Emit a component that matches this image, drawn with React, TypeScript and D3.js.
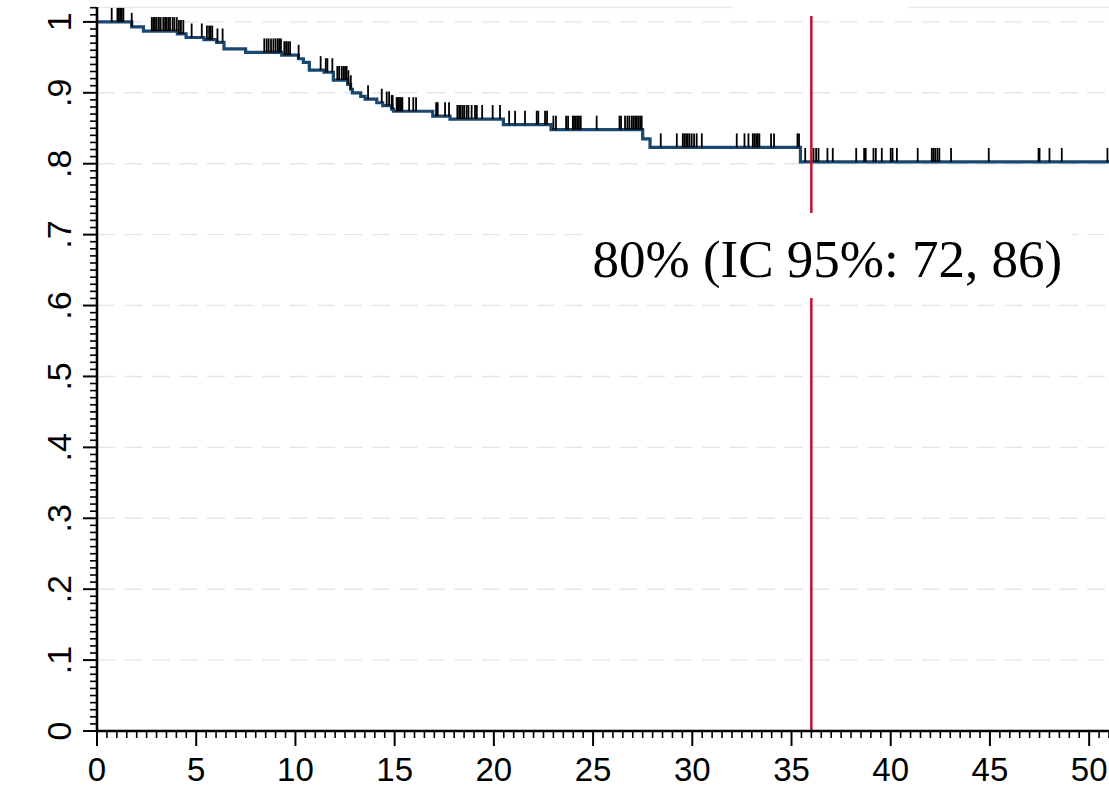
import * as d3 from "d3";
import { useEffect } from "react";

// Kaplan-Meier steps (time in months, survival after the drop)
const eventTimes = [
  1.75, 2.34, 4.05, 4.49, 5.39, 6.03, 6.4, 7.49, 9.31, 10.15, 10.4, 10.7, 11.44,
  11.91, 12.63, 12.78, 12.87, 13.29, 13.51, 14.1, 14.4, 14.85, 14.94, 16.92,
  17.79, 20.48, 22.88, 27.5, 27.87, 35.45,
];
const survival = [
  0.993, 0.987, 0.983, 0.978, 0.975, 0.971, 0.962, 0.957, 0.953, 0.948, 0.943,
  0.932, 0.929, 0.918, 0.912, 0.905, 0.9, 0.895, 0.891, 0.886, 0.882, 0.877,
  0.874, 0.867, 0.863, 0.855, 0.848, 0.835, 0.823, 0.8025,
];
const censorTimes = [
  0.74, 1.03, 1.1, 1.17, 1.25, 1.33, 1.75, 2.76, 2.84, 2.92, 3.01, 3.12, 3.21,
  3.34, 3.43, 3.51, 3.6, 3.68, 3.81, 3.9, 4.02, 4.13, 4.23, 4.35, 4.77, 5.28,
  5.54, 5.65, 5.73, 5.81, 6.07, 6.33, 8.43, 8.55, 8.65, 8.77, 8.89, 9.0, 9.11,
  9.19, 9.27, 9.44, 9.53, 9.63, 9.73, 10.16, 11.27, 11.53, 11.61, 11.86, 12.11,
  12.2, 12.33, 12.42, 12.5, 12.58, 12.67, 12.79, 13.66, 14.35, 14.6, 14.72,
  14.85, 14.9, 15.1, 15.15, 15.2, 15.27, 15.32, 15.39, 15.73, 15.94, 16.08,
  17.09, 17.17, 17.54, 17.74, 18.16, 18.25, 18.33, 18.43, 18.51, 18.63, 18.72,
  18.88, 19.05, 19.14, 19.41, 19.94, 20.31, 20.77, 21.07, 21.57, 22.16, 22.24,
  22.58, 22.68, 23.0, 23.13, 23.64, 23.74, 23.98, 24.04, 24.13, 24.21, 24.29,
  24.38, 25.18, 26.33, 26.41, 26.61, 26.73, 26.83, 26.95, 27.03, 27.12, 27.2,
  27.28, 27.37, 27.45, 28.41, 29.22, 29.52, 29.6, 29.69, 29.77, 29.86, 29.97,
  30.09, 30.22, 30.48, 32.24, 32.63, 32.83, 33.05, 33.13, 33.22, 33.3, 33.38,
  33.97, 34.12, 35.3, 35.38, 35.69, 36.11, 36.24, 36.36, 36.81, 37.08, 38.26,
  38.66, 38.74, 39.13, 39.25, 39.55, 40.0, 40.09, 40.31, 41.36, 42.07, 42.15,
  42.24, 42.35, 42.45, 43.04, 44.94, 47.45, 47.5, 48.0, 48.62, 50.92,
];
const xTicks = [0, 5, 10, 15, 20, 25, 30, 35, 40, 45, 50];
const yTicks = [0, 0.1, 0.2, 0.3, 0.4, 0.5, 0.6, 0.7, 0.8, 0.9, 1];
const yLabels = ["0", ".1", ".2", ".3", ".4", ".5", ".6", ".7", ".8", ".9", "1"];
const markTime = 36;
const annotation = "80% (IC 95%: 72, 86)";
// faint top border, broken between these times
const topBreak = [32.06, 40.88];

const W = 1109;
const H = 788;

export default function App() {
  useEffect(() => {
    document.body.style.margin = "0";
  }, []);

  const x = d3.scaleLinear().domain([0, 51]).range([97, 1109]);
  const y = d3.scaleLinear().domain([0, 1.021]).range([731, 7]);

  const survAt = (t: number) => {
    let s = 1;
    eventTimes.forEach((e, i) => {
      if (e <= t) s = survival[i];
    });
    return s;
  };

  const pts: [number, number][] = [[0, 1]];
  eventTimes.forEach((t, i) => pts.push([t, survival[i]]));
  pts.push([51, survival[survival.length - 1]]);

  const line = d3
    .line<[number, number]>()
    .x((d) => x(d[0]))
    .y((d) => y(d[1]))
    .curve(d3.curveStepAfter);

  const xMinor = d3.range(0, 51.01, 0.5).filter((t) => t % 5 !== 0);
  const yMinor = d3.range(0, 103).map((i) => i / 100).filter((v) => Math.round(v * 100) % 10 !== 0);

  const gridDash = "18,9.5";
  const axisFont = "'Liberation Sans', Arial, sans-serif";
  const tx = x(markTime) + 16;
  const ty = 277;

  return (
    <svg width={W} height={H} style={{ display: "block", background: "#fff" }}>
      {/* grid */}
      <g stroke="#dfe7ee" strokeWidth={1.4} strokeDasharray={gridDash}>
        {yTicks.slice(1).map((v) => (
          <line key={v} x1={x(0)} x2={x(51)} y1={y(v)} y2={y(v)} />
        ))}
      </g>
      <g stroke="#e4ebf2" strokeWidth={1.5}>
        <line x1={x(0)} x2={x(topBreak[0])} y1={y(1.021) + 0.5} y2={y(1.021) + 0.5} />
        <line x1={x(topBreak[1])} x2={x(51)} y1={y(1.021) + 0.5} y2={y(1.021) + 0.5} />
      </g>

      {/* KM curve */}
      <path d={line(pts) || ""} fill="none" stroke="#1a476f" strokeWidth={3.2} />

      {/* censor marks */}
      <g stroke="#000" strokeWidth={1.8}>
        {censorTimes.map((t, i) => (
          <line key={i} x1={x(t)} x2={x(t)} y1={y(survAt(t))} y2={y(survAt(t)) - 14} />
        ))}
      </g>

      {/* reference line at 36 months */}
      <line x1={x(markTime)} x2={x(markTime)} y1={y(0)} y2={16} stroke="#c8102e" strokeWidth={2.5} />
      <rect x={tx - 245} y={ty - 64} width={490} height={85} fill="#fff" />
      <text
        x={tx}
        y={ty}
        textAnchor="middle"
        fontFamily="'Liberation Serif', 'Times New Roman', serif"
        fontSize={53}
        fill="#000"
      >
        {annotation}
      </text>

      {/* y axis */}
      <g stroke="#000">
        <line x1={x(0)} x2={x(0)} y1={y(0) + 1} y2={y(1.021)} strokeWidth={2.6} />
        {yMinor.map((v) => (
          <line key={v} x1={x(0) - 7} x2={x(0)} y1={y(v)} y2={y(v)} strokeWidth={1.6} />
        ))}
        {yTicks.map((v) => (
          <line key={v} x1={x(0) - 14} x2={x(0)} y1={y(v)} y2={y(v)} strokeWidth={2} />
        ))}
      </g>
      <g fontFamily={axisFont} fontSize={34} fill="#000">
        {yTicks.map((v, i) => (
          <text key={v} transform={`translate(71,${y(v)}) rotate(-90)`} textAnchor="middle">
            {yLabels[i]}
          </text>
        ))}
      </g>

      {/* x axis */}
      <g stroke="#000">
        <line x1={x(0) - 1} x2={x(51)} y1={y(0)} y2={y(0)} strokeWidth={2.6} />
        {xMinor.map((t) => (
          <line key={t} x1={x(t)} x2={x(t)} y1={y(0)} y2={y(0) + 7} strokeWidth={1.6} />
        ))}
        {xTicks.map((t) => (
          <line key={t} x1={x(t)} x2={x(t)} y1={y(0)} y2={y(0) + 15} strokeWidth={2} />
        ))}
      </g>
      <g fontFamily={axisFont} fontSize={33} fill="#000" textAnchor="middle">
        {xTicks.map((t) => (
          <text key={t} x={x(t)} y={781}>
            {t}
          </text>
        ))}
      </g>
    </svg>
  );
}
